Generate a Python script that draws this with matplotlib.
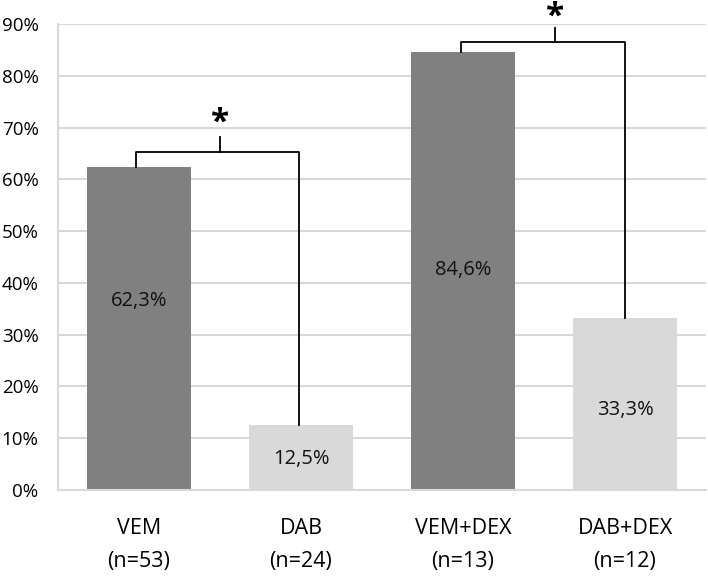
import matplotlib
matplotlib.use("Agg")
import matplotlib.pyplot as plt
from matplotlib.ticker import FuncFormatter, MultipleLocator

categories = ["VEM\n(n=53)", "DAB\n(n=24)", "VEM+DEX\n(n=13)", "DAB+DEX\n(n=12)"]
values = [62.3, 12.5, 84.6, 33.3]
value_labels = ["62,3%", "12,5%", "84,6%", "33,3%"]
label_y = [36.5, 6.0, 42.5, 15.5]
colors = ["#808080", "#d9d9d9", "#808080", "#d9d9d9"]

# significance brackets: (left x, right x, bracket height, tick x, tick top, star y)
brackets = [
    (-0.02, 0.99, 65.3, 0.5, 68.2, 70.9),
    (1.99, 3.0, 86.5, 2.57, 89.3, 91.3),
]

plt.rcParams['font.family'] = ['Open Sans', 'DejaVu Sans']

fig = plt.figure(figsize=(7.08, 5.8), dpi=100)
ax = fig.add_axes([58/708, 90/580, 648/708, 466/580])

x = list(range(len(categories)))
ax.bar(x, values, width=0.64, color=colors, zorder=2)
for xi, txt, ly in zip(x, value_labels, label_y):
    ax.text(xi, ly, txt, ha="center", va="center", fontsize=14.5, color="#111111", zorder=3)

for (xl, xr, h, xt, ht, sy), v in zip(brackets, [(values[0], values[1]), (values[2], values[3])]):
    ax.plot([xl, xl, xr, xr], [v[0], h, h, v[1]], color="black", lw=1.3, zorder=4)
    ax.plot([xt, xt], [h, ht], color="black", lw=1.3, zorder=4)
    ax.text(xt, sy, "*", ha="center", va="center", fontsize=24, fontweight="bold",
            color="black", clip_on=False)

ax.set_xlim(-0.5, 3.5)
ax.set_ylim(0, 90)
ax.yaxis.set_major_locator(MultipleLocator(10))
ax.yaxis.set_major_formatter(FuncFormatter(lambda v, p: f"{int(round(v))}%"))
ax.grid(axis="y", color="#d9d9d9", lw=1.5, zorder=0)
ax.set_axisbelow(True)
ax.set_xticks(x)
ax.set_xticklabels(categories, fontsize=15.5, linespacing=1.78)
ax.tick_params(axis="both", length=0)
ax.tick_params(axis="x", pad=20)
ax.tick_params(axis="y", labelsize=13.5, pad=14)
for s in ["top", "right"]:
    ax.spines[s].set_visible(False)
ax.spines["left"].set_color("#d9d9d9")
ax.spines["bottom"].set_color("#d9d9d9")
ax.spines["left"].set_linewidth(1.5)
ax.spines["bottom"].set_linewidth(1.5)

fig.savefig("out.png", dpi=100, facecolor="white")
